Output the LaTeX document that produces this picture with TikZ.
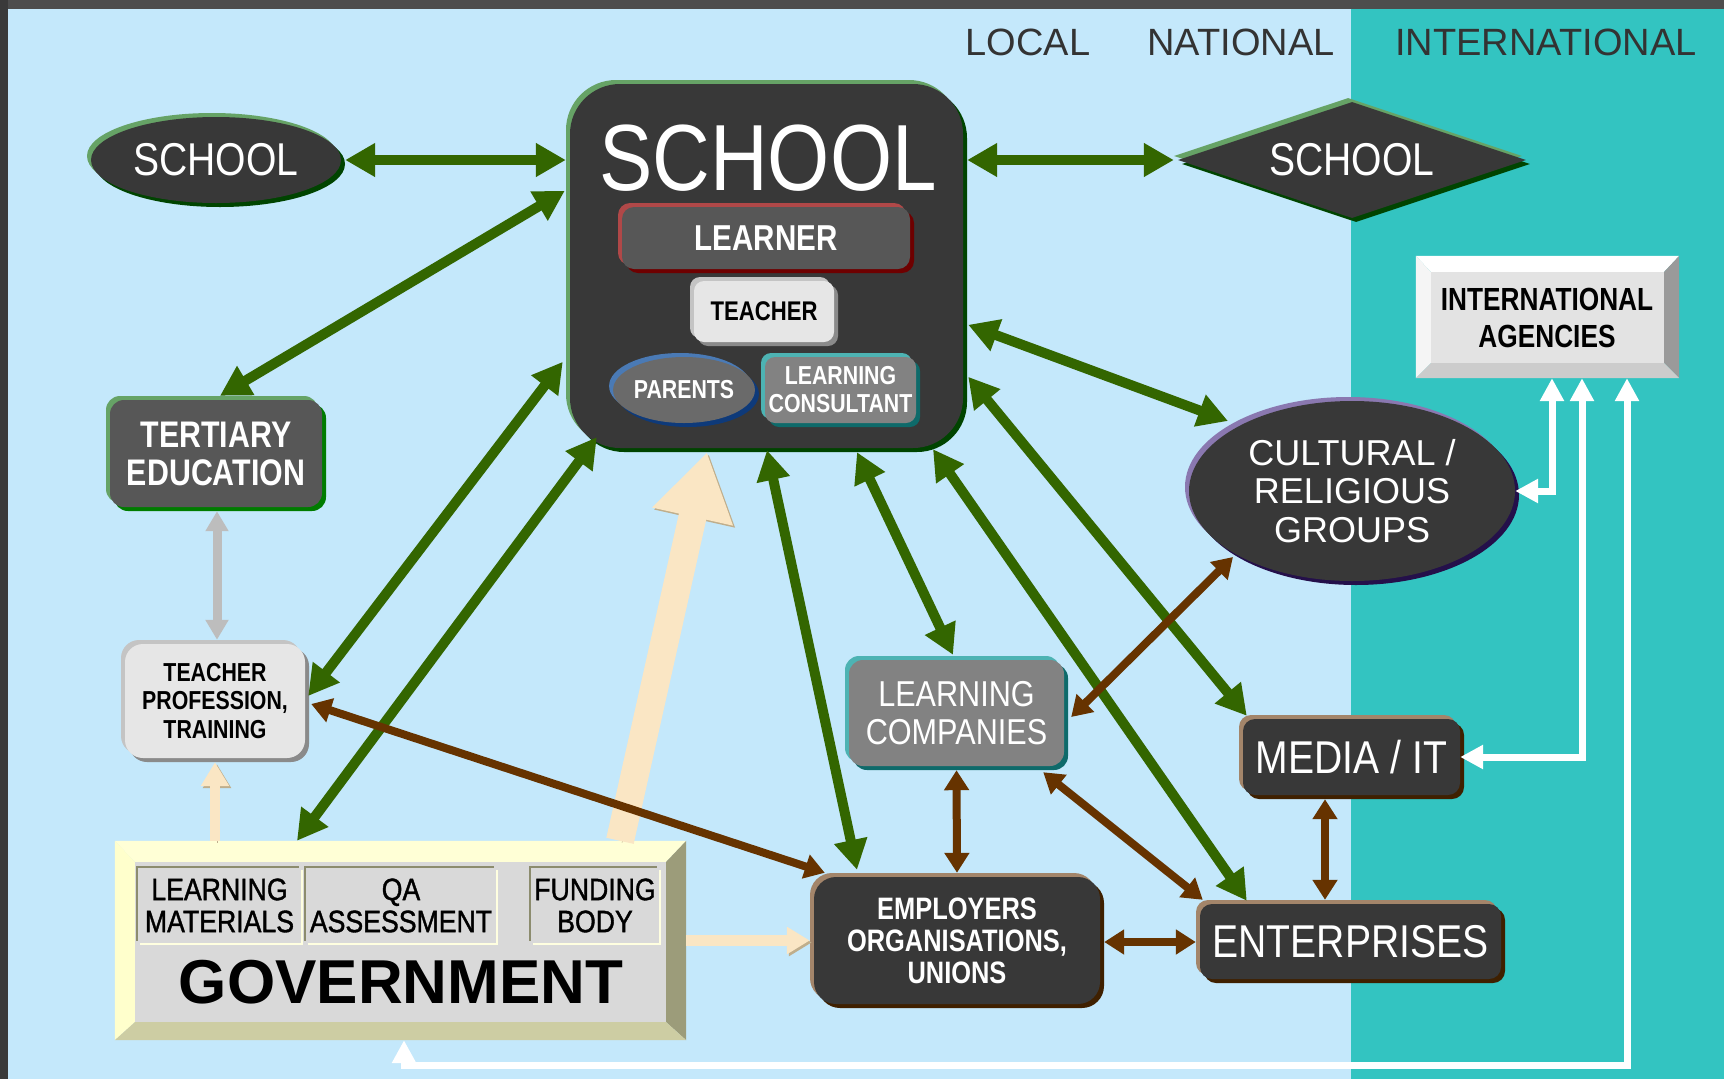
\documentclass[tikz,border=0pt]{standalone}
\usepackage{fontspec}
\setmainfont{Liberation Sans}
\newfontfamily\condR[FakeStretch=0.85]{Liberation Sans}
\newfontfamily\condM[FakeStretch=0.86,FakeBold=1.2]{Liberation Sans}
\newfontfamily\condB[FakeStretch=0.82]{Liberation Sans}
\usetikzlibrary{arrows.meta,calc,shapes.geometric}

\definecolor{bgblue}{HTML}{C4E8FB}
\definecolor{tealbg}{HTML}{33C4C1}
\definecolor{framec}{HTML}{4D4D4D}
\definecolor{garrow}{HTML}{336600}
\definecolor{barrow}{HTML}{663300}
\definecolor{wheatA}{HTML}{FAE6C4}
\definecolor{wheatD}{HTML}{BFAE8C}
\definecolor{marbleD}{HTML}{383838}
\definecolor{marbleM}{HTML}{575757}
\definecolor{marbleG}{HTML}{828282}
\definecolor{marbleP}{HTML}{6A6A6A}
\definecolor{marbleL}{HTML}{E6E6E6}
\definecolor{grnL}{HTML}{66A366}
\definecolor{grnD}{HTML}{004400}
\definecolor{redL}{HTML}{B04848}
\definecolor{redD}{HTML}{6E0000}
\definecolor{bluL}{HTML}{4A7AB5}
\definecolor{bluD}{HTML}{0E3A7A}
\definecolor{tealL}{HTML}{4DB3B3}
\definecolor{tealD}{HTML}{0E6A6A}
\definecolor{gryL}{HTML}{C4C4C4}
\definecolor{gryD}{HTML}{8A8A8A}
\definecolor{brnL}{HTML}{A3856A}
\definecolor{brnD}{HTML}{3F2000}
\definecolor{purL}{HTML}{8A78B0}
\definecolor{purD}{HTML}{24104A}
\definecolor{hdr}{HTML}{333333}
\definecolor{govT}{HTML}{FFFFD6}
\definecolor{govL}{HTML}{FFFFCC}
\definecolor{govR}{HTML}{9C9C7A}
\definecolor{govB}{HTML}{CDCDA3}
\definecolor{govI}{HTML}{D9D9D9}
\definecolor{govE}{HTML}{8C8C6E}
\definecolor{govH}{HTML}{FFFFE0}
\definecolor{agR}{HTML}{9A9A9A}
\definecolor{agB}{HTML}{CCCCCC}
\definecolor{agI}{HTML}{E3E3E3}
\definecolor{grayarr}{HTML}{BDBDBD}

\tikzset{
  bev/.style n args={3}{fill=#1,
    preaction={fill=#2, transform canvas={xshift=-4pt,yshift=4pt}},
    preaction={fill=#3, transform canvas={xshift=4pt,yshift=-4pt}}},
  engr/.style={fill=govI,
    preaction={fill=govE, transform canvas={xshift=-2pt,yshift=2pt}},
    preaction={fill=govH, transform canvas={xshift=2pt,yshift=-2pt}}},
  rb/.style={rectangle, rounded corners=#1, inner sep=0pt, align=center},
  ell/.style={ellipse, inner sep=0pt, align=center},
  grnarr/.style={draw=garrow, line width=10pt,
    {Triangle[length=30pt,width=32pt]}-{Triangle[length=30pt,width=32pt]}},
  brnarr/.style={draw=barrow, line width=8pt,
    {Triangle[length=20pt,width=24pt]}-{Triangle[length=20pt,width=24pt]}},
  whtarr/.style={draw=white, line width=7pt,
    {Triangle[length=23pt,width=23pt]}-{Triangle[length=23pt,width=23pt]}},
  gryarr/.style={draw=grayarr, line width=9pt,
    {Triangle[length=20pt,width=22pt]}-{Triangle[length=20pt,width=22pt]}},
  wheatarr/.style={draw=wheatA, line width=#1,
    preaction={draw=wheatD, transform canvas={xshift=2pt,yshift=-2pt}}},
  hdrtxt/.style={text=hdr, inner sep=0pt, font=\fontsize{38}{38}\selectfont},
  subtxt/.style={rectangle, inner sep=0pt, engr, minimum height=75pt, align=center, font=\condM\fontsize{31}{32}\selectfont}
}

\begin{document}
\begin{tikzpicture}[x=1pt,y=-1pt]
\useasboundingbox (0,0) rectangle (1724,1079);
% background
\fill[bgblue] (0,0) rectangle (1724,1079);
\fill[tealbg] (1351,9) rectangle (1724,1079);
\fill[framec] (0,0) rectangle (1724,9);
\fill[framec!75!black] (0,0) rectangle (8,1079);

% headers
\node[hdrtxt] (hlocal) at (1028,42) {LOCAL};
\node[hdrtxt] (hnat) at (1241,42) {NATIONAL};
\node[hdrtxt] (hint) at (1546,42) {INTERNATIONAL};

% main school
\node[rb=50pt, bev={marbleD}{grnL}{grnD}, minimum width=393pt, minimum height=364pt] (main) at (766.5,266) {};
\node[text=white, inner sep=0pt, font=\condR\fontsize{94}{94}\selectfont] (mainT) at (768,158) {SCHOOL};
\node[rb=12pt, bev={marbleM}{redL}{redD}, minimum width=288pt, minimum height=62pt, text=white, font=\condB\bfseries\fontsize{36}{36}\selectfont] (learner) at (766,238) {LEARNER};
\node[rb=10pt, bev={marbleL}{gryL}{gryD}, minimum width=140pt, minimum height=61pt, text=black, font=\condB\bfseries\fontsize{27}{27}\selectfont] (teacher) at (764,311.5) {TEACHER};
\node[ell, bev={marbleP}{bluL}{bluD}, minimum width=140pt, minimum height=66pt, text=white, font=\condB\bfseries\fontsize{26}{26}\selectfont] (parents) at (684,390) {PARENTS};
\node[rb=10pt, bev={marbleG}{tealL}{tealD}, minimum width=151pt, minimum height=66pt, text=white, font=\condB\bfseries\fontsize{26}{28}\selectfont] (consult) at (840.5,390) {LEARNING\\CONSULTANT};

% side schools
\node[ell, bev={marbleD}{grnL}{grnD}, minimum width=250pt, minimum height=86pt, text=white, font=\condR\fontsize{46}{46}\selectfont] (schoolL) at (216,160) {SCHOOL};
\node[diamond, aspect=3, inner sep=0pt, bev={marbleD}{grnL}{grnD}, minimum width=348pt, minimum height=116pt, text=white, font=\condR\fontsize{46}{46}\selectfont] (schoolR) at (1352,160) {SCHOOL};

% left column
\node[rb=14pt, bev={marbleM}{grnL}{grnD!70!green}, minimum width=212pt, minimum height=107pt, text=white, font=\condB\bfseries\fontsize{37}{38}\selectfont] (tert) at (216,453.5) {TERTIARY\\EDUCATION};
\node[rb=18pt, bev={marbleL}{gryL}{gryD}, minimum width=180pt, minimum height=114pt, text=black, font=\condB\bfseries\fontsize{26}{28.5}\selectfont] (teachprof) at (215,701) {TEACHER\\PROFESSION,\\TRAINING};

% government
\node[rectangle, inner sep=0pt, minimum width=571pt, minimum height=199pt] (gov) at (400.5,940.5) {};
\fill[govT] (gov.north west) -- (gov.north east) -- ($(gov.north east)+(-20,21)$) -- ($(gov.north west)+(20,21)$) -- cycle;
\fill[govL] (gov.north west) -- ($(gov.north west)+(20,21)$) -- ($(gov.south west)+(20,-18)$) -- (gov.south west) -- cycle;
\fill[govR] (gov.north east) -- (gov.south east) -- ($(gov.south east)+(-20,-18)$) -- ($(gov.north east)+(-20,21)$) -- cycle;
\fill[govB] (gov.south west) -- (gov.south east) -- ($(gov.south east)+(-20,-18)$) -- ($(gov.south west)+(20,-18)$) -- cycle;
\fill[govI] ($(gov.north west)+(20,21)$) rectangle ($(gov.south east)+(-20,-18)$);
\node[subtxt, minimum width=163pt] (lm) at (219.5,905.5) {LEARNING\\MATERIALS};
\node[subtxt, minimum width=190pt] (qa) at (401,905.5) {QA\\ASSESSMENT};
\node[subtxt, minimum width=128pt] (fb) at (595,905.5) {FUNDING\\BODY};
\node[inner sep=0pt, font=\bfseries\fontsize{62}{62}\selectfont] (govT) at (401,982) {GOVERNMENT};

% international agencies
\node[rectangle, inner sep=0pt, minimum width=263pt, minimum height=122pt] (agencies) at (1547.5,317) {};
\fill[white] (agencies.north west) -- (agencies.north east) -- ($(agencies.north east)+(-15,16)$) -- ($(agencies.north west)+(15,16)$) -- cycle;
\fill[white!96!black] (agencies.north west) -- ($(agencies.north west)+(15,16)$) -- ($(agencies.south west)+(15,-15)$) -- (agencies.south west) -- cycle;
\fill[agR] (agencies.north east) -- (agencies.south east) -- ($(agencies.south east)+(-15,-15)$) -- ($(agencies.north east)+(-15,16)$) -- cycle;
\fill[agB] (agencies.south west) -- (agencies.south east) -- ($(agencies.south east)+(-15,-15)$) -- ($(agencies.south west)+(15,-15)$) -- cycle;
\fill[agI] ($(agencies.north west)+(15,16)$) rectangle ($(agencies.south east)+(-15,-15)$);
\node[inner sep=0pt, align=center, font=\condB\bfseries\fontsize{32}{37}\selectfont] (agT) at (1547,318) {INTERNATIONAL\\AGENCIES};

% right side nodes
\node[ell, bev={marbleD}{purL}{purD}, minimum width=326pt, minimum height=180pt, text=white, font=\fontsize{36}{38.5}\selectfont] (cultural) at (1352,491) {CULTURAL /\\RELIGIOUS\\GROUPS};
\node[rb=12pt, bev={marbleD}{brnL}{brnD}, minimum width=217pt, minimum height=76pt, text=white, font=\condR\fontsize{46}{46}\selectfont] (media) at (1351.5,757) {MEDIA / IT};
\node[rb=12pt, bev={marbleD}{brnL}{brnD}, minimum width=301pt, minimum height=75pt, text=white, font=\condR\fontsize{46}{46}\selectfont] (enterp) at (1350.5,941.5) {ENTERPRISES};
\node[rb=14pt, bev={marbleG}{tealL}{tealD}, minimum width=215pt, minimum height=106pt, text=white, font=\condR\fontsize{36}{38}\selectfont] (lcomp) at (956.5,713) {LEARNING\\COMPANIES};
\node[rb=22pt, bev={marbleD}{brnL}{brnD}, minimum width=286pt, minimum height=127pt, text=white, font=\condB\bfseries\fontsize{31}{32}\selectfont] (employ) at (957,940.5) {EMPLOYERS\\ORGANISATIONS,\\UNIONS};

% wheat arrows
\draw[wheatarr=28pt, -{Triangle[length=66pt,width=78pt]}] ($(gov.north)+(219.5,0)$) -- ($(main.south)+(-59.5,4)$);
\draw[wheatarr=10pt, -{Triangle[length=24pt,width=27pt]}] ($(gov.north)+(-185.5,0)$) -- ($(teachprof.south)+(0,4)$);
\draw[wheatarr=11pt, -{Triangle[length=23pt,width=26pt]}] (gov.east) -- ($(employ.west)+(-4,0)$);

% gray arrow
\draw[gryarr] ($(tert.south)+(1,4)$) -- ($(teachprof.north)+(2,-4)$);

% green arrows
\draw[grnarr] ($(schoolL.east)+(4,0)$) -- ($(main.west |- schoolL.east)+(-4,0)$);
\draw[grnarr] ($(main.east |- schoolR.west)+(4,0)$) -- ($(schoolR.west)+(-4,0)$);
\draw[grnarr] ($(main.north west)+(-5,107)$) -- ($(tert.north)+(4,-4)$);
\draw[grnarr] ($(main.north west)+(-7,278)$) -- ($(teachprof.east)+(3,-5)$);
\draw[grnarr] ($(main.south west)+(27,-11)$) -- ($(gov.north)+(-103.5,0)$);
\draw[grnarr] ($(main.south)+(0.5,2)$) -- ($(employ.north)+(-100,-7)$);
\draw[grnarr] ($(main.south)+(90.5,4)$) -- ($(lcomp.north)+(-3.5,-5)$);
\draw[grnarr] ($(main.south)+(166.5,1)$) -- ($(enterp.north west)+(47,-3)$);
\draw[grnarr] ($(main.north east)+(5,293)$) -- ($(media.north west)+(4,-3)$);
\draw[grnarr] ($(main.north east)+(5,241)$) -- ($(cultural.center)+(-124,-70)$);

% brown arrows
\draw[brnarr] ($(teachprof.east)+(6,3)$) -- ($(employ.north west)+(11,-4)$);
\draw[brnarr] ($(lcomp.south)+(0,4)$) -- ($(employ.north)+(0,-4)$);
\draw[brnarr] ($(lcomp.south east)+(-21,6)$) -- ($(enterp.north west)+(3,-4)$);
\draw[brnarr] ($(cultural.center)+(-119,66)$) -- ($(lcomp.east)+(7,4)$);
\draw[brnarr] ($(employ.east)+(4,1.5)$) -- ($(enterp.west)+(-4,0.5)$);
\draw[brnarr] ($(media.south)+(-26.5,4)$) -- ($(enterp.north)+(-25.5,-4)$);

% white arrows
\draw[whtarr] (cultural.east) -| ($(agencies.south)+(4.5,0)$);
\draw[whtarr] (media.east) -| ($(agencies.south)+(34.5,0)$);
\draw[whtarr] ($(agencies.south)+(79.5,0)$) |- ($(gov.south)+(3.5,25)$) -- ($(gov.south)+(3.5,0)$);
\end{tikzpicture}
\end{document}
